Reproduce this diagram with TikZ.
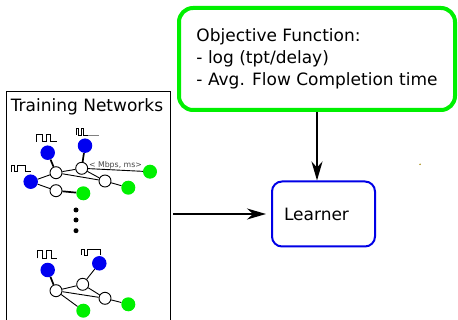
\documentclass[tikz,border=0pt]{standalone}
\usepackage{fontspec}
\setmainfont{DejaVu Sans}
\usetikzlibrary{arrows.meta}
\definecolor{brightgreen}{RGB}{0,240,0}
\definecolor{nodeblue}{RGB}{0,0,240}
\definecolor{boxblue}{RGB}{0,0,230}
\definecolor{labelgray}{RGB}{70,70,70}
\definecolor{speck}{RGB}{160,130,0}
\begin{document}
\begin{tikzpicture}[x=1pt,y=-1pt,
  host/.style={circle,fill=nodeblue,inner sep=0,minimum size=14.5},
  sink/.style={circle,fill=brightgreen,inner sep=0,minimum size=14},
  sw/.style={circle,draw,fill=white,inner sep=0,minimum size=12,line width=0.9},
  link/.style={line width=0.9},
  heavylink/.style={line width=1.7},
  pulse/.style={line width=0.9},
  arr/.style={line width=2,-{Stealth[length=19,width=11,inset=6]}},
  bigfont/.style={font=\fontsize{17}{22}\selectfont}]
\useasboundingbox (0,0) rectangle (458,320);

% training box
\node[draw,line width=0.9,minimum width=164,minimum height=232,inner sep=0] (train) at (88,207) {};
\node[bigfont,inner sep=0] (traintitle) at (87,107) {Training Networks};

% objective box
\node[bigfont,draw=brightgreen,line width=4,rounded corners=14,minimum width=276,minimum height=102,align=left,inner sep=0] (obj) at (317,59)
  {Objective Function:\\- log (tpt/delay)\\- Avg. Flow Completion time};

% learner box
\node[bigfont,draw=boxblue,line width=2,rounded corners=10,minimum width=103,minimum height=65,inner sep=0] (learner) at (323.5,214) {Learner\hspace*{14pt}};

\draw[arr] (obj.south) -- (obj.south |- learner.north);
\draw[arr,shorten >=5pt] ([xshift=3pt]train.east |- learner.west) -- (learner.west);

\fill[speck] (420,164.3) circle (0.8);

% ---- network 1
\node[host] (a) at (47.7,152.7) {};
\node[host] (b) at (85,145.7) {};
\node[host] (c) at (30.7,181.7) {};
\node[sw] (w1) at (56,172.7) {};
\node[sw] (w2) at (81.7,168.3) {};
\node[sw] (w3) at (105,181) {};
\node[sw] (w4) at (56,190.7) {};
\node[sink] (g1) at (150,171.7) {};
\node[sink] (g2) at (128.3,187.7) {};
\node[sink] (g3) at (83.3,193.3) {};

\draw[heavylink] (a) -- (w1);
\draw[heavylink] (b) -- (w2);
\draw[link] (c) -- (w1);
\draw[link] (c) -- (w4);
\draw[link] (w1) -- (w2);
\draw[link] (w1) -- (w3);
\draw[link] (w2) -- (w3);
\draw[link] (w2) -- node[above,inner sep=0.6,text=labelgray,font=\fontsize{7.8}{9}\selectfont] (bw) {< Mbps, ms>} (g1);
\draw[link] (w3) -- (g2);
\draw[heavylink] (w4) -- (g3);

% pulses network 1
\draw[pulse] (36.7,141.7) -- (36.7,134) -- (42,134) -- (42,141.7) -- (46,141.7) -- (46,134) -- (50.5,134) -- (50.5,141.7) -- (56.7,141.7);
\draw[pulse] (76,135) -- (76,128) -- (78.5,128) -- (78.5,135) -- (81,135) -- (81,128) -- (83.5,128) -- (83.5,135) -- (88,135);
\draw[pulse,gray] (88,135) -- (99,135);
\draw[pulse] (11.7,171.7) -- (11.7,165.7) -- (14.5,165.7) -- (14.5,171.7) -- (17.5,171.7) -- (17.5,165.7) -- (25,165.7) -- (25,171.7) -- (31,171.7);

% dots
\fill (76,210) circle (2.5);
\fill (76,220) circle (2.5);
\fill (76,230.7) circle (2.5);

% ---- network 2
\node[host] (d) at (47.7,270) {};
\node[host] (e) at (99.3,263.3) {};
\node[sw] (w5) at (56,290.7) {};
\node[sw] (w6) at (82.7,284.3) {};
\node[sw] (w7) at (105,298.3) {};
\node[sink] (g4) at (128.3,304.3) {};
\node[sink] (g5) at (83.3,310.7) {};

\draw[heavylink] (d) -- (w5);
\draw[link] (e) -- (w6);
\draw[link] (w5) -- (w6);
\draw[link] (w5) -- (w7);
\draw[link] (w6) -- (w7);
\draw[link] (w7) -- (g4);
\draw[link] (w5) -- (g5);

\draw[pulse] (37.3,258.3) -- (37.3,250.7) -- (42.5,250.7) -- (42.5,258.3) -- (46.5,258.3) -- (46.5,250.7) -- (51,250.7) -- (51,258.3) -- (56.7,258.3);
\draw[pulse] (81.7,255) -- (81.7,249.3) -- (84,249.3) -- (84,255) -- (87.5,255) -- (87.5,249.3) -- (100,249.3) -- (100,255);
\end{tikzpicture}
\end{document}
